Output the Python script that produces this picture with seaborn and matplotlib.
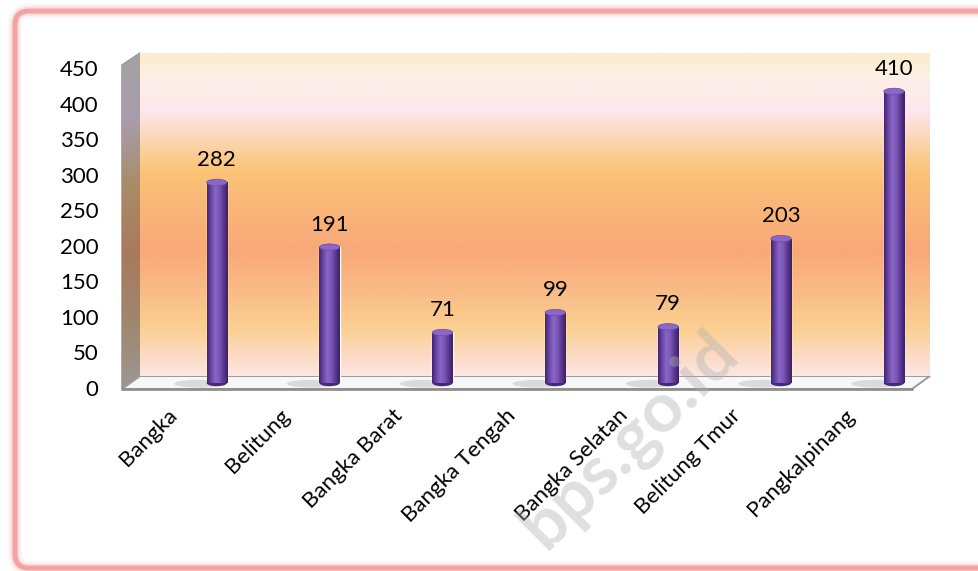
import matplotlib
matplotlib.use("Agg")
import matplotlib.pyplot as plt
import numpy as np
import pandas as pd
import seaborn as sns
from matplotlib.colors import LinearSegmentedColormap
from matplotlib.patches import Polygon, Ellipse, FancyBboxPatch
from matplotlib.transforms import ScaledTranslation

# data
regions = ["Bangka", "Belitung", "Bangka Barat", "Bangka Tengah",
           "Bangka Selatan", "Belitung Tmur", "Pangkalpinang"]
values = [282, 191, 71, 99, 79, 203, 410]
yticks = [0, 50, 100, 150, 200, 250, 300, 350, 400, 450]

df = pd.DataFrame({"region": regions, "value": values})

sns.set_theme(style="white")
plt.rcParams["font.family"] = ["Lato", "DejaVu Sans"]

W, H = 979, 571
fig = plt.figure(figsize=(W / 100, H / 100), dpi=100)
fig.patch.set_facecolor("white")

# background layer in pixel coords
bg = fig.add_axes([0, 0, 1, 1], zorder=0)
bg.set_xlim(0, W)
bg.set_ylim(H, 0)
bg.axis("off")

# pink frame
for lw, a in [(14, 0.12), (9, 0.25), (5, 1.0)]:
    bg.add_patch(FancyBboxPatch((15, 11), 1000, 557,
                                boxstyle="round,pad=0,rounding_size=14",
                                fill=False, edgecolor="#f4a3a3", linewidth=lw * 0.72,
                                alpha=a))

# left side wall
side = Polygon([(122, 65), (140, 53), (140, 376), (122, 389)], closed=True,
               facecolor="none", edgecolor="#8a8a8a", linewidth=1)
bg.add_patch(side)
side_cmap = LinearSegmentedColormap.from_list(
    "side", ["#a2a2a2", "#a89cac", "#a88c66", "#a87a5c", "#a08670", "#9c9890"])
side_img = bg.imshow(np.linspace(0, 1, 256).reshape(-1, 1), cmap=side_cmap,
                     extent=[122, 140, 389, 53], aspect="auto", zorder=1)
side_img.set_clip_path(side)
bg.set_xlim(0, W)
bg.set_ylim(H, 0)

# floor
bg.add_patch(Polygon([(122, 389), (140, 376), (930, 376), (912, 389)], closed=True,
                     facecolor="#f7f7f7", edgecolor="#9a9a9a", linewidth=1.4, zorder=2))
bg.plot([122, 912], [389, 389], color="#8f8f8f", linewidth=2, zorder=3)

# main axes (back wall)
ax = fig.add_axes([140 / W, 1 - 383 / H, 790 / W, 330 / H], zorder=1)
ax.set_facecolor("none")

wall_px = [53, 75, 110, 140, 170, 200, 250, 290, 330, 360, 376]
wall_col = ["#fbecca", "#fdf0e4", "#fde6ee", "#fcd6b0", "#fbc477", "#f9b878",
            "#f9a878", "#f9bb86", "#fbd092", "#fcdcc8", "#fde6e0"]
pos = [(p - 53) / (376 - 53) for p in wall_px]
wall_cmap = LinearSegmentedColormap.from_list("wall", list(zip(pos, wall_col)))
ax.imshow(np.linspace(0, 1, 300).reshape(-1, 1), cmap=wall_cmap,
          extent=[0, 1, 7 / 330, 1], transform=ax.transAxes, aspect="auto", zorder=0)

sns.barplot(data=df, x="region", y="value", color="#6a45a0", width=0.18,
            saturation=1, ax=ax, zorder=2)

bar_cmap = LinearSegmentedColormap.from_list(
    "bar", ["#43256f", "#6a46a6", "#8a66c6", "#7a56b6", "#5a3790", "#3c2064"])
for p in ax.patches:
    x0, w, h = p.get_x(), p.get_width(), p.get_height()
    cx = x0 + w / 2
    # shadow on floor
    ax.add_patch(Ellipse((cx - w * 0.9, -1), w * 2.4, 11, facecolor="#9a9a9a",
                         alpha=0.3, edgecolor="none", zorder=1, clip_on=False))
    ax.add_patch(Ellipse((cx, 0), w, 9, facecolor="#46287a", edgecolor="none",
                         zorder=1.5, clip_on=False))
    img = ax.imshow(np.linspace(0, 1, 64).reshape(1, -1), cmap=bar_cmap,
                    extent=[x0, x0 + w, 0, h], aspect="auto", zorder=2.5)
    img.set_clip_path(p)
    ax.add_patch(Ellipse((cx, h), w, 9, facecolor="#8b68c6", edgecolor="#6a48a8",
                         linewidth=0.5, zorder=3))

ax.bar_label(ax.containers[0], padding=9, fontsize=16, color="black")

ax.set_xlim(-0.68, 6.32)
ax.set_ylim(0, 464)
ax.set_yticks(yticks)
ax.set_xlabel("")
ax.set_ylabel("")
for s in ax.spines.values():
    s.set_visible(False)
ax.grid(False)

ax.tick_params(axis="y", length=0, pad=30, labelsize=16, labelcolor="black")
ax.tick_params(axis="x", length=0, pad=21, labelsize=16, labelcolor="black")

yoff = ScaledTranslation(0, -5 / 100, fig.dpi_scale_trans)
for lbl in ax.get_yticklabels():
    lbl.set_transform(lbl.get_transform() + yoff)

xoff = ScaledTranslation(-43 / 100, 0, fig.dpi_scale_trans)
for lbl in ax.get_xticklabels():
    lbl.set_rotation(45)
    lbl.set_ha("right")
    lbl.set_va("center")
    lbl.set_rotation_mode("anchor")
    lbl.set_transform(lbl.get_transform() + xoff)

# watermark on top, faint
fig.text(630 / W, 1 - 440 / H, "bps.go.id", rotation=45, fontsize=50,
         fontweight="bold", color="#b0b0b0", alpha=0.4, ha="center", va="center",
         zorder=10)

plt.savefig("out.png", dpi=100)
